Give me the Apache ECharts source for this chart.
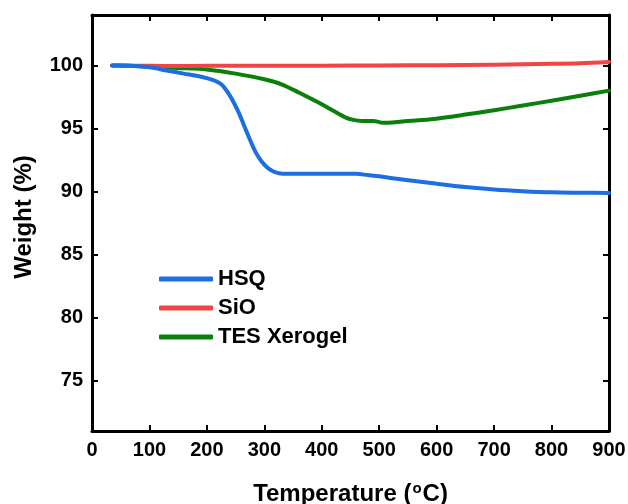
<!DOCTYPE html>
<html><head><meta charset="utf-8">
<script src="https://cdn.jsdelivr.net/npm/echarts@6/dist/echarts.min.js"></script>
<style>html,body{margin:0;padding:0;background:#fff}#c{width:628px;height:504px}</style>
</head><body><div id="c"></div>
<script>
const hsqT = [35, 60, 100, 130, 160, 190, 210, 225, 240, 255, 265, 275, 285, 295, 305, 315, 325, 340, 380, 420, 460, 480, 500, 540, 590, 650, 700, 750, 800, 850, 900];
const hsqW = [100, 100, 99.85, 99.6, 99.35, 99.1, 98.85, 98.5, 97.6, 96.3, 95.2, 94.1, 93.1, 92.4, 91.9, 91.6, 91.45, 91.4, 91.4, 91.4, 91.4, 91.3, 91.2, 90.95, 90.67, 90.35, 90.15, 90.02, 89.93, 89.9, 89.88];
const sioT = [35, 100, 150, 200, 250, 300, 400, 500, 600, 700, 800, 850, 900];
const sioW = [100, 99.97, 99.95, 99.97, 99.97, 99.98, 99.98, 100, 100.02, 100.06, 100.13, 100.18, 100.28];
const tesT = [35, 100, 150, 200, 250, 300, 330, 360, 390, 420, 440, 455, 470, 490, 500, 505, 540, 590, 650, 700, 750, 800, 850, 900];
const tesW = [100, 99.9, 99.8, 99.68, 99.35, 98.9, 98.5, 97.85, 97.15, 96.4, 95.9, 95.68, 95.6, 95.6, 95.5, 95.45, 95.55, 95.73, 96.1, 96.45, 96.82, 97.2, 97.6, 98.0];
const yTicks = [75, 80, 85, 90, 95, 100];
const names = ['HSQ', 'SiO', 'TES Xerogel'];
const colors = {HSQ: '#1c6fe0', SiO: '#f04448', 'TES Xerogel': '#0a800a'};

const zip = (a, b) => a.map((v, i) => [v, b[i]]);
const font = 'Liberation Sans, Arial, sans-serif';
const axisLine = {show: true, onZero: false, lineStyle: {color: '#000', width: 3}};
const tick = {show: true, inside: true, length: 6, lineStyle: {color: '#000', width: 2}};

const chart = echarts.init(document.getElementById('c'), null, {renderer: 'canvas'});
function mkSeries(name, T, W) {
  return {name, type: 'line', data: zip(T, W), showSymbol: false, symbol: 'none', smooth: 0.3,
    lineStyle: {width: 4, color: colors[name], cap: 'round', join: 'round'}, itemStyle: {color: colors[name]}};
}
chart.setOption({
  animation: false,
  grid: {left: 92, right: 19, top: 15, bottom: 73, containLabel: false, outerBoundsMode: 'none'},
  legend: {
    orient: 'vertical', left: 154, top: 263, itemGap: 7, itemWidth: 54, itemHeight: 5, icon: 'roundRect',
    data: names, textStyle: {fontFamily: font, fontWeight: 'bold', fontSize: 22, color: '#000'}
  },
  xAxis: [{
    type: 'value', min: 0, max: 900, interval: 100, position: 'bottom',
    axisLine, axisTick: tick, splitLine: {show: false},
    axisLabel: {margin: 9, fontFamily: font, fontWeight: 'bold', fontSize: 20, color: '#000'},
    name: 'Temperature ({s|o}C)', nameLocation: 'middle', nameGap: 50,
    nameTextStyle: {fontFamily: font, fontWeight: 'bold', fontSize: 24, color: '#000',
      rich: {s: {fontFamily: font, fontWeight: 'bold', fontSize: 15, color: '#000', verticalAlign: 'bottom', padding: [0, 1, 12, 1]}}}
  }, {
    type: 'value', min: 0, max: 900, interval: 100, position: 'top',
    axisLine, axisTick: tick, splitLine: {show: false}, axisLabel: {show: false}
  }],
  yAxis: [{
    type: 'value', min: 71, max: 104, position: 'left',
    axisLine, axisTick: Object.assign({}, tick, {customValues: yTicks}), splitLine: {show: false},
    axisLabel: {customValues: yTicks, margin: 9, fontFamily: font, fontWeight: 'bold', fontSize: 20, color: '#000'},
    name: 'Weight (%)', nameLocation: 'middle', nameGap: 56,
    nameTextStyle: {fontFamily: font, fontWeight: 'bold', fontSize: 24, color: '#000', padding: [0, 0, 0, 12]}
  }, {
    type: 'value', min: 71, max: 104, position: 'right',
    axisLine, axisTick: Object.assign({}, tick, {customValues: yTicks}), splitLine: {show: false}, axisLabel: {show: false}
  }],
  series: [mkSeries('TES Xerogel', tesT, tesW), mkSeries('SiO', sioT, sioW), mkSeries('HSQ', hsqT, hsqW)]
});
</script></body></html>
